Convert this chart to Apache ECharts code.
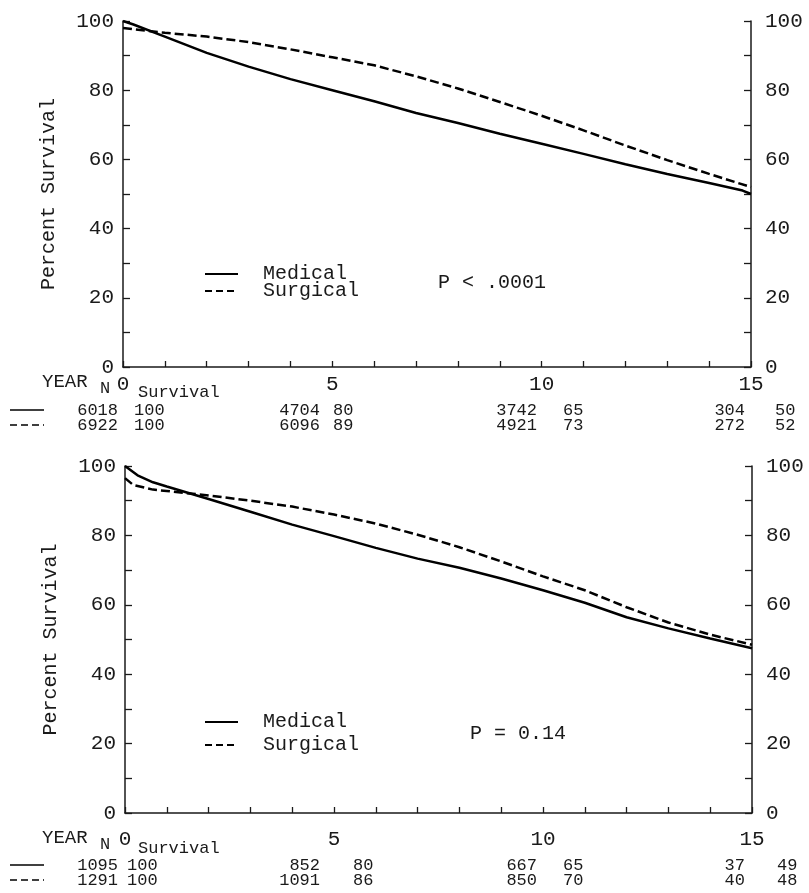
<!DOCTYPE html>
<html>
<head>
<meta charset="utf-8">
<script src="https://cdn.jsdelivr.net/npm/echarts@6/dist/echarts.min.js"></script>
<style>
html,body{margin:0;padding:0;background:#fff}
#main{width:809px;height:893px}
</style>
</head>
<body>
<div id="main"></div>
<script>
var FONT = '"Liberation Mono", "DejaVu Sans Mono", monospace';
var INK = '#1a1a1a';

// survival curves, [year, percent]
var topMedical = [[0,100],[0.25,99],[1,95.5],[2,90.8],[3,86.8],[4,83.2],[5,80],[6,76.8],[7,73.4],[8,70.5],[9,67.4],[10,64.5],[11,61.6],[12,58.6],[13,55.8],[14,53.2],[14.8,51],[15,50]];
var topSurgical = [[0,98],[0.25,97.6],[1,96.6],[2,95.5],[3,93.9],[4,91.8],[5,89.5],[6,87.2],[7,84],[8,80.5],[9,76.6],[10,72.6],[11,68.4],[12,64],[13,59.8],[14,55.8],[15,52]];
var btmMedical = [[0,100],[0.3,97.3],[0.67,95.3],[1,94.1],[2,90.5],[3,86.8],[4,83.1],[5,79.8],[6,76.4],[7,73.3],[8,70.7],[9,67.6],[10,64.2],[11,60.6],[12,56.4],[13,53.2],[14,50.3],[15,47.5]];
var btmSurgical = [[0,96.5],[0.2,94.5],[0.67,93.2],[1,92.8],[2,91.5],[3,90],[4,88.3],[5,86],[6,83.4],[7,80.2],[8,76.6],[9,72.5],[10,68.2],[11,64.2],[12,59.3],[13,54.9],[14,51.4],[15,48.5]];

// numbers at risk / survival table under each panel
var tableYears = [0, 5, 10, 15];
var topMedN = [6018, 4704, 3742, 304];
var topMedS = [100, 80, 65, 50];
var topSurN = [6922, 6096, 4921, 272];
var topSurS = [100, 89, 73, 52];
var btmMedN = [1095, 852, 667, 37];
var btmMedS = [100, 80, 65, 49];
var btmSurN = [1291, 1091, 850, 40];
var btmSurS = [100, 86, 70, 48];

var xLabels = [0, 5, 10, 15];
var yLabels = [0, 20, 40, 60, 80, 100];
var legendNames = ['Medical', 'Surgical'];
var pTexts = ['P < .0001', 'P = 0.14'];

// layout of the table columns (pixels)
var nRight = [118, 320, 537, 745];
var sLeftTop = [134, 333, 563, 775];
var sLeftBtm = [127, 353, 563, 777];

var grids = [
  { left: 123, right: 58, top: 21, height: 346 },
  { left: 125, right: 57, top: 466, height: 347 }
];

function xAxis(idx, margin) {
  return {
    type: 'value', gridIndex: idx, min: 0, max: 15, interval: 1,
    axisLine: { lineStyle: { color: INK, width: 1.5 } },
    axisTick: { inside: true, length: 6, lineStyle: { color: INK, width: 1.3 } },
    splitLine: { show: false },
    axisLabel: {
      margin: margin, fontFamily: FONT, fontSize: 21, color: INK,
      formatter: function (v) { return xLabels.indexOf(v) >= 0 ? String(v) : ''; }
    }
  };
}
function yAxis(idx, pos, name) {
  return {
    type: 'value', gridIndex: idx, position: pos, min: 0, max: 100, interval: 10,
    name: name, nameLocation: 'middle', nameGap: 64,
    nameTextStyle: { fontFamily: FONT, fontSize: 20, color: INK },
    axisLine: { show: true, lineStyle: { color: INK, width: 1.5 } },
    axisTick: { show: true, inside: true, length: 7, lineStyle: { color: INK, width: 1.3 } },
    splitLine: { show: false },
    axisLabel: {
      margin: pos === 'left' ? 9 : 14, fontFamily: FONT, fontSize: 21, color: INK,
      formatter: function (v) { return yLabels.indexOf(v) >= 0 ? String(v) : ''; }
    }
  };
}
function curve(name, data, idx, dashed) {
  return {
    name: name, type: 'line', xAxisIndex: idx, yAxisIndex: idx * 2,
    data: data, symbol: 'none', silent: true,
    lineStyle: { color: '#000', width: 2.5, type: dashed ? [9, 4] : 'solid' }
  };
}

function txt(x, y, s, size, align) {
  return { type: 'text', x: x, y: y, z: 10, style: {
    text: s, font: size + 'px ' + FONT, fill: INK,
    textAlign: align || 'left', textVerticalAlign: 'middle' } };
}
function seg(x1, x2, y, dashed, w) {
  return { type: 'line', z: 10, shape: { x1: x1, y1: y, x2: x2, y2: y },
    style: { stroke: '#000', lineWidth: w || 2, lineDash: dashed ? [7, 4] : null } };
}

var graphics = [];
function panelText(legY1, legY2, pX, pY, pText, headY, rowY1, rowY2, medN, medS, surN, surS, sLeft) {
  graphics.push(seg(205, 238, legY1, false, 2));
  graphics.push(seg(205, 238, legY2, true, 2));
  graphics.push(txt(263, legY1, legendNames[0], 20));
  graphics.push(txt(263, legY2, legendNames[1], 20));
  graphics.push(txt(pX, pY, pText, 20));
  graphics.push(txt(42, headY, 'YEAR', 19));
  graphics.push(txt(100, headY + 6, 'N', 17));
  graphics.push(txt(138, headY + 10, 'Survival', 17));
  graphics.push(seg(10, 44, rowY1, false, 1.5));
  graphics.push(seg(10, 44, rowY2, true, 1.5));
  for (var i = 0; i < tableYears.length; i++) {
    graphics.push(txt(nRight[i], rowY1, String(medN[i]), 17, 'right'));
    graphics.push(txt(sLeft[i], rowY1, String(medS[i]), 17));
    graphics.push(txt(nRight[i], rowY2, String(surN[i]), 17, 'right'));
    graphics.push(txt(sLeft[i], rowY2, String(surS[i]), 17));
  }
}
panelText(274, 291, 438, 283, pTexts[0], 382, 410, 425, topMedN, topMedS, topSurN, topSurS, sLeftTop);
panelText(722, 745, 470, 734, pTexts[1], 838, 865, 880, btmMedN, btmMedS, btmSurN, btmSurS, sLeftBtm);

var chart = echarts.init(document.getElementById('main'), null, { renderer: 'canvas' });
chart.setOption({
  backgroundColor: '#fff',
  animation: false,
  grid: grids,
  xAxis: [xAxis(0, 7), xAxis(1, 16)],
  yAxis: [
    yAxis(0, 'left', 'Percent Survival'), yAxis(0, 'right', ''),
    yAxis(1, 'left', 'Percent Survival'), yAxis(1, 'right', '')
  ],
  series: [
    curve('Medical', topMedical, 0, false),
    curve('Surgical', topSurgical, 0, true),
    curve('Medical', btmMedical, 1, false),
    curve('Surgical', btmSurgical, 1, true)
  ],
  graphic: graphics
});
</script>
</body>
</html>
